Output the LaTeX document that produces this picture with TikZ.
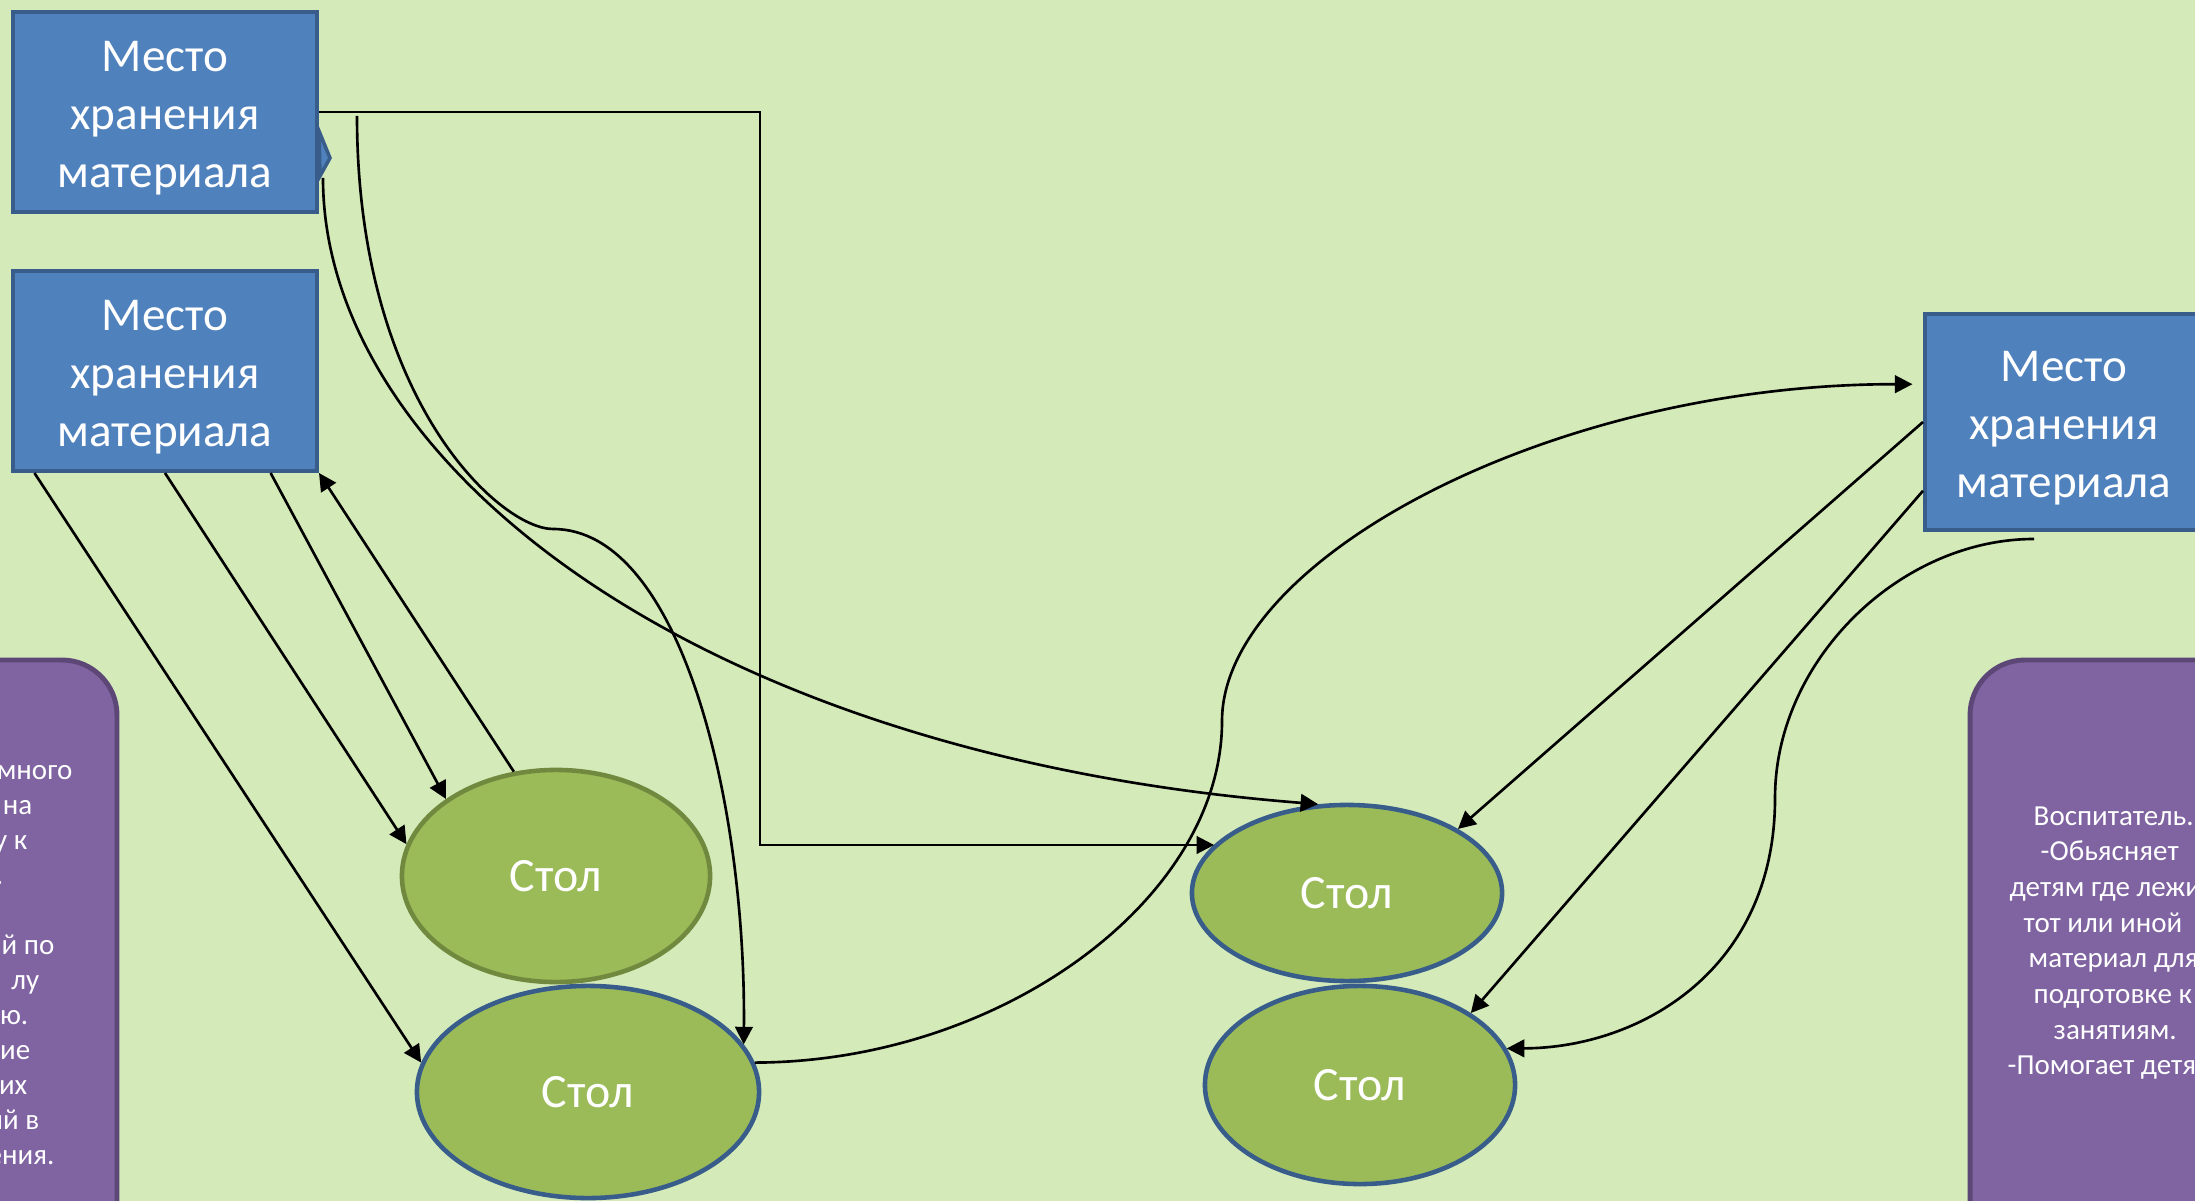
\documentclass[tikz,border=0pt]{standalone}
\usepackage{fontspec}
\setmainfont{Carlito}
\usepackage{tikz}
\usetikzlibrary{arrows.meta,shapes.geometric,positioning}

\definecolor{bgcol}{RGB}{212,234,185}
\definecolor{boxfill}{RGB}{79,129,189}
\definecolor{boxline}{RGB}{56,93,138}
\definecolor{deskfill}{RGB}{155,187,89}
\definecolor{deskolive}{RGB}{113,137,63}
\definecolor{notefill}{RGB}{128,100,162}
\definecolor{noteline}{RGB}{92,71,118}
\newcommand{\capstrut}{\rule{0pt}{12pt}}

\begin{document}
\begin{tikzpicture}[x=0.01cm,y=-0.01cm,>={Triangle[length=5pt,width=5pt]},
    storage/.style={rectangle,draw=boxline,fill=boxfill,line width=1.1pt,
      minimum width=3.04cm,minimum height=2cm,inner sep=0pt,text=white,
      align=center,font=\fontsize{13.4}{16.5}\selectfont},
    desk/.style={ellipse,draw=boxline,fill=deskfill,line width=1.3pt,
      inner sep=0pt,text=white,font=\fontsize{13.6}{16}\selectfont},
    note/.style={draw=noteline,fill=notefill,line width=1.4pt,rounded corners=0.55cm},
    notetext/.style={inner sep=0pt,text=white,font=\fontsize{8.25}{10.2}\selectfont},
    link/.style={->,line width=0.75pt}]
      \useasboundingbox (0,0) rectangle (2195,1201);
      \fill[bgcol] (0,0) rectangle (2195,1201);
      \clip (0,0) rectangle (2195,1201);

      % side notes
      \path[note] (-170,660) rectangle (117,1260);
      \path[note] (1970,660) rectangle (2260,1260);
      \foreach \txt/\xr/\i in {много/73/0,на/33/1,у к/28/2,./4/3,й по/55/5,
          лу/40/6,ю./29/7,ие/31/8,их/28/9,ий в/40/10,ения./55/11}
        \node[notetext,anchor=base east] (lnote\i) at ({\xr},{779+35*\i}) {\txt};
      \foreach \txt/\xl/\i in {Воспитатель./2033/0,-Обьясняет/2040/1,
          детям где лежи/2009/2,тот или иной/2023/3,материал для/2028/4,
          подготовке к/2033/5,занятиям./2053/6,-Помогает детя/2007/7}
        \node[notetext,anchor=base west] (rnote\i) at ({\xl},{825+35.7*\i}) {\txt};

      % storage places
      \node[storage] (box1) at (165,112) {\capstrut Место\\хранения\\материала};
      \node[storage] [below=0.55cm of box1] (box2) {\capstrut Место\\хранения\\материала};
      \node[storage,minimum width=2.78cm,minimum height=2.16cm] (box3) at (2064,422)
        {\capstrut Место\\хранения\\материала};
      \path[fill=boxfill,draw=boxline,line width=1pt] (319,131) -- (330,158) -- (320,176) -- cycle;

      % tables
      \node[desk,draw=deskolive,minimum width=3.08cm,minimum height=2.12cm] (e1) at (556,876) {Стол};
      \node[desk,minimum width=3.42cm,minimum height=2.12cm] (e2) at (588,1092) {Стол};
      \node[desk,minimum width=3.10cm,minimum height=1.76cm] (e3) at (1347,893) {Стол};
      \node[desk,minimum width=3.10cm,minimum height=1.98cm] (e4) at (1360,1085) {Стол};

      \coordinate (notch) at (323,178);
      \coordinate (loose) at (357,116);
      \coordinate (tail) at (2034,539);
      \coordinate (elbow) at (760,845);

      \draw[link] (box1.east) -| (elbow) -- (elbow -| e3.160);
      \draw[link] (notch) .. controls (323,460) and (690,755) .. (e3.108);
      \draw[link] (loose) .. controls (357,400) and (500,529) .. (553,529)
        .. controls (680,529) and (746,800) .. (e2.17);
      \draw[link] (box2.218) -- (e2.170);
      \draw[link] (box2.south) -- (e1.168);
      \draw[link] (box2.316) -- (e1.145);
      \draw[link] (e1.112) -- (box2.south east);
      \draw[link,shorten >=3pt] (e2.10) .. controls (1000,1062) and (1222,900) .. (1222,721)
        .. controls (1222,560) and (1550,384) .. (box3.165);
      \draw[link] (box3.west) -- (e3.30);
      \draw[link] (box3.206) -- (e4.33);
      \draw[link] (tail) .. controls (1900,539) and (1775,660) .. (1775,798)
        .. controls (1775,970) and (1640,1048) .. (e4.14);
\end{tikzpicture}
\end{document}
